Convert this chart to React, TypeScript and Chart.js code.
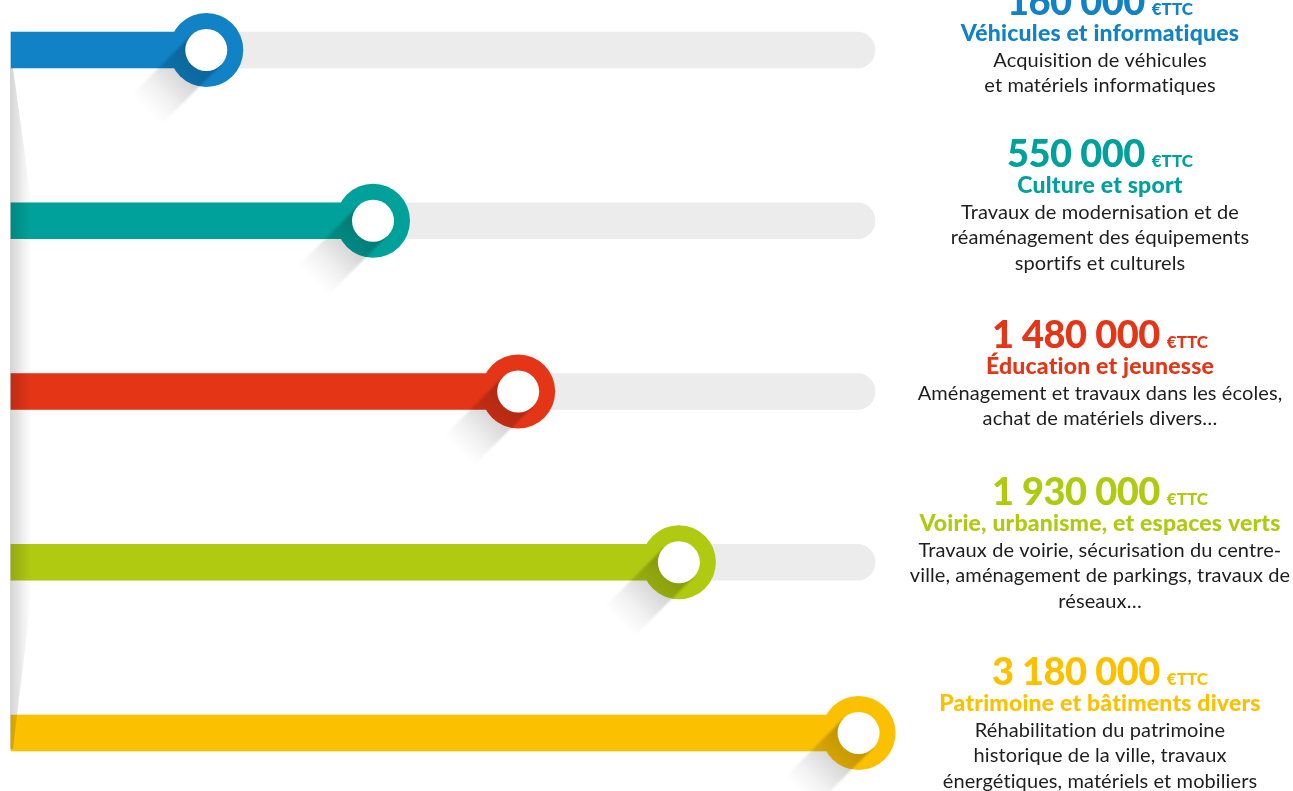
import React, { useEffect, useRef } from "react";
import { Chart, registerables } from "chart.js";

Chart.register(...registerables);

// ---------- DATA ----------
const categories = [
  "Véhicules et informatiques",
  "Culture et sport",
  "Éducation et jeunesse",
  "Voirie, urbanisme, et espaces verts",
  "Patrimoine et bâtiments divers",
];
const amounts = ["160 000", "550 000", "1 480 000", "1 930 000", "3 180 000"];
const unitLabel = "€TTC";
// how far each coloured bar is filled along its grey track (percent)
const fillPercent = [22.6, 41.9, 58.7, 77.3, 98.1];
const trackValues = [100, 100, 100, 100, 100];
const descriptions = [
  ["Acquisition de véhicules", "et matériels informatiques"],
  ["Travaux de modernisation et de", "réaménagement des équipements", "sportifs et culturels"],
  ["Aménagement et travaux dans les écoles,", "achat de matériels divers…"],
  ["Travaux de voirie, sécurisation du centre-", "ville, aménagement de parkings, travaux de", "réseaux…"],
  ["Réhabilitation du patrimoine", "historique de la ville, travaux", "énergétiques, matériels et mobiliers"],
];
const colors = ["#1082c5", "#00a19a", "#e43517", "#b0c911", "#fbc100"];

// ---------- LAYOUT / STYLE ----------
const W = 1293;
const H = 791;
const TRACK_COLOR = "#ececec";
const BAR_THICKNESS = 36;
const RING_OUTER = 37;
const RING_INNER = 21;
const TEXT_CENTER_X = 1100;
const NUMBER_BASELINES = [15, 167, 348, 505, 685];
const TITLE_GAP = 26;
const DESC_GAP = 25.5;
const DESC_LINE = 25.5;

const decoPlugin = {
  id: "deco",
  afterDatasetsDraw(chart: any) {
    const ctx: CanvasRenderingContext2D = chart.ctx;
    const meta = chart.getDatasetMeta(0);
    const els = meta.data;
    const area = chart.chartArea;
    ctx.save();
    // left vertical soft shadow
    const top = els[0].y + BAR_THICKNESS / 2;
    const bot = els[els.length - 1].y + BAR_THICKNESS / 2 - 2;
    const x0 = area.left;
    const g = ctx.createLinearGradient(x0, 0, x0 + 20, 0);
    g.addColorStop(0, "rgba(0,0,0,0.16)");
    g.addColorStop(1, "rgba(0,0,0,0)");
    ctx.fillStyle = g;
    ctx.beginPath();
    ctx.moveTo(x0 - 1, top);
    ctx.lineTo(x0 + 2, top);
    ctx.lineTo(x0 + 20, top + 130);
    ctx.lineTo(x0 + 20, bot - 150);
    ctx.lineTo(x0 + 2, bot);
    ctx.lineTo(x0 - 1, bot);
    ctx.closePath();
    ctx.fill();

    // rings with long shadows
    els.forEach((el: any, i: number) => {
      const cx = el.x;
      const cy = el.y;
      ctx.fillStyle = colors[i];
      ctx.beginPath();
      ctx.arc(cx, cy, RING_OUTER, 0, Math.PI * 2);
      ctx.fill();

      ctx.save();
      ctx.translate(cx, cy);
      ctx.rotate((3 * Math.PI) / 4);
      const L = 84;
      const sg = ctx.createLinearGradient(0, 0, L, 0);
      sg.addColorStop(0, "rgba(0,0,0,0.26)");
      sg.addColorStop(0.45, "rgba(0,0,0,0.15)");
      sg.addColorStop(0.75, "rgba(0,0,0,0.05)");
      sg.addColorStop(1, "rgba(0,0,0,0)");
      ctx.fillStyle = sg;
      (ctx as any).filter = "blur(1px)";
      ctx.beginPath();
      ctx.rect(0, -RING_INNER, L, RING_INNER * 2);
      ctx.fill();
      (ctx as any).filter = "none";
      ctx.restore();

      ctx.fillStyle = "#ffffff";
      ctx.beginPath();
      ctx.arc(cx, cy, RING_INNER, 0, Math.PI * 2);
      ctx.fill();
    });
    ctx.restore();
  },
  afterDraw(chart: any) {
    const ctx: CanvasRenderingContext2D = chart.ctx;
    ctx.save();
    ctx.textBaseline = "alphabetic";
    (ctx as any).letterSpacing = "0.1px";
    categories.forEach((cat, i) => {
      const nb = NUMBER_BASELINES[i];
      const numFont = "900 38px Lato";
      const unitFont = "900 17px Lato";
      (ctx as any).letterSpacing = "-0.5px";
      ctx.font = numFont;
      const wa = ctx.measureText(amounts[i]).width;
      (ctx as any).letterSpacing = "0px";
      ctx.font = unitFont;
      const wu = ctx.measureText(unitLabel).width;
      const gap = 7;
      const sx = TEXT_CENTER_X - (wa + gap + wu) / 2;
      ctx.textAlign = "left";
      ctx.fillStyle = colors[i];
      (ctx as any).letterSpacing = "-0.5px";
      ctx.font = numFont;
      ctx.fillText(amounts[i], sx, nb);
      (ctx as any).letterSpacing = "0px";
      ctx.font = unitFont;
      ctx.fillText(unitLabel, sx + wa + gap, nb);
      // title
      ctx.textAlign = "center";
      (ctx as any).letterSpacing = "0.2px";
      ctx.font = "900 23px Lato";
      ctx.fillText(cat, TEXT_CENTER_X, nb + TITLE_GAP);
      // description
      (ctx as any).letterSpacing = "0.1px";
      ctx.font = "400 20px Lato";
      ctx.fillStyle = "#1e1e1e";
      descriptions[i].forEach((line, k) => {
        ctx.fillText(line, TEXT_CENTER_X, nb + TITLE_GAP + DESC_GAP + k * DESC_LINE);
      });
    });
    ctx.restore();
  },
};

export default function App() {
  const ref = useRef<HTMLCanvasElement | null>(null);
  useEffect(() => {
    if (!ref.current) return;
    const chart = new Chart(ref.current, {
      type: "bar",
      data: {
        labels: categories,
        datasets: [
          {
            label: "Réalisé",
            data: fillPercent,
            backgroundColor: colors,
            barThickness: BAR_THICKNESS,
            grouped: false,
            clip: false as any,
            borderWidth: 0,
            order: 0,
          },
          {
            label: "Piste",
            data: trackValues,
            backgroundColor: TRACK_COLOR,
            barThickness: BAR_THICKNESS,
            grouped: false,
            clip: false as any,
            borderWidth: 0,
            borderRadius: BAR_THICKNESS / 2,
            borderSkipped: "start",
            order: 1,
          },
        ],
      },
      options: {
        indexAxis: "y",
        responsive: false,
        maintainAspectRatio: false,
        animation: false,
        layout: { padding: { left: 11, right: W - 875, top: 50, bottom: H - 733 } },
        scales: {
          x: { type: "linear", min: 0, max: 100, display: false },
          y: { type: "category", offset: false, display: false },
        },
        plugins: { legend: { display: false }, tooltip: { enabled: false } },
      },
      plugins: [decoPlugin],
    });
    if ((document as any).fonts && (document as any).fonts.ready) {
      (document as any).fonts.ready.then(() => chart.draw());
    }
    return () => chart.destroy();
  }, []);
  return (
    <div style={{ position: "absolute", left: 0, top: 0, width: W, height: H, background: "#fff" }}>
      <canvas ref={ref} width={W} height={H} style={{ display: "block" }} />
    </div>
  );
}
